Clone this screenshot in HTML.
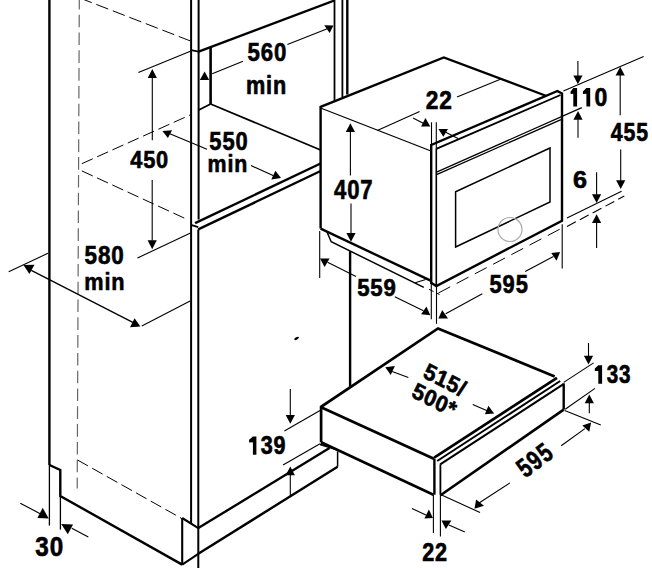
<!DOCTYPE html>
<html><head><meta charset="utf-8"><style>html,body{margin:0;padding:0;background:#fff;width:652px;height:568px;overflow:hidden}
svg{display:block}text{font-family:"Liberation Sans",sans-serif;font-weight:bold;fill:#000}</style></head><body>
<svg width="652" height="568" viewBox="0 0 652 568">
<line x1="49.4" y1="0" x2="49.4" y2="465" stroke="#000" stroke-width="2.4" stroke-linecap="butt"/>
<path d="M49.4,465 L60.3,470 L60.3,496 L182.2,564.6" fill="none" stroke="#000" stroke-width="2.4" stroke-linejoin="miter"/>
<line x1="49.4" y1="465" x2="49.4" y2="525.6" stroke="#000" stroke-width="1.3" stroke-linecap="butt"/>
<line x1="60.4" y1="496" x2="60.4" y2="529.6" stroke="#000" stroke-width="1.3" stroke-linecap="butt"/>
<line x1="79.3" y1="0" x2="77.2" y2="488.5" stroke="#666" stroke-width="1.2" stroke-dasharray="12.6 5.2" stroke-dashoffset="3.1"/>
<line x1="79.8" y1="-2" x2="190.5" y2="41" stroke="#000" stroke-width="1.0" stroke-dasharray="12.8 4.9" stroke-dashoffset="0"/>
<line x1="81.8" y1="163.7" x2="190.5" y2="114.8" stroke="#000" stroke-width="1.0" stroke-dasharray="12 4.8" stroke-dashoffset="0"/>
<line x1="81.8" y1="170.9" x2="188" y2="219.8" stroke="#000" stroke-width="1.0" stroke-dasharray="12 4.8" stroke-dashoffset="0"/>
<line x1="77.5" y1="460" x2="181.75" y2="518.5" stroke="#000" stroke-width="1.0" stroke-dasharray="12 4.8" stroke-dashoffset="0"/>
<line x1="191.1" y1="0" x2="191.1" y2="523.3" stroke="#000" stroke-width="2.0" stroke-linecap="butt"/>
<line x1="198.6" y1="0" x2="198.6" y2="219.5" stroke="#000" stroke-width="2.0" stroke-linecap="butt"/>
<line x1="191.1" y1="50.2" x2="198.6" y2="51.6" stroke="#000" stroke-width="1.8" stroke-linecap="butt"/>
<line x1="198.6" y1="51.6" x2="334.5" y2="0.5" stroke="#000" stroke-width="2.4" stroke-linecap="butt"/>
<line x1="210.6" y1="47.5" x2="210.6" y2="104" stroke="#000" stroke-width="2.6" stroke-linecap="butt"/>
<line x1="198.8" y1="110" x2="210.6" y2="104" stroke="#000" stroke-width="1.8" stroke-linecap="butt"/>
<line x1="210.6" y1="104" x2="320.6" y2="150" stroke="#000" stroke-width="1.8" stroke-linecap="butt"/>
<line x1="191.7" y1="225.1" x2="198.2" y2="227.2" stroke="#000" stroke-width="1.8" stroke-linecap="butt"/>
<line x1="195.1" y1="223.2" x2="320.6" y2="163.5" stroke="#000" stroke-width="2.4" stroke-linecap="butt"/>
<line x1="198.2" y1="229.4" x2="320.6" y2="171" stroke="#000" stroke-width="2.4" stroke-linecap="butt"/>
<line x1="198.3" y1="229.4" x2="198.3" y2="568" stroke="#000" stroke-width="2.0" stroke-linecap="butt"/>
<line x1="334.5" y1="0" x2="334.5" y2="100.7" stroke="#000" stroke-width="1.8" stroke-linecap="butt"/>
<line x1="342.4" y1="0" x2="342.4" y2="97" stroke="#000" stroke-width="1.8" stroke-linecap="butt"/>
<line x1="347.3" y1="0" x2="347.3" y2="94.5" stroke="#000" stroke-width="2.4" stroke-linecap="butt"/>
<line x1="182.2" y1="518" x2="198.3" y2="528.1" stroke="#000" stroke-width="2.1" stroke-linecap="butt"/>
<line x1="182.2" y1="518" x2="182.2" y2="564.6" stroke="#000" stroke-width="2.1" stroke-linecap="butt"/>
<line x1="182.2" y1="564.6" x2="198.3" y2="553.8" stroke="#000" stroke-width="2.1" stroke-linecap="butt"/>
<line x1="198.3" y1="528.1" x2="329.5" y2="448" stroke="#000" stroke-width="2.4" stroke-linecap="butt"/>
<line x1="198.3" y1="553.8" x2="337.6" y2="466.7" stroke="#000" stroke-width="2.4" stroke-linecap="butt"/>
<line x1="337.6" y1="451.4" x2="337.6" y2="466.7" stroke="#000" stroke-width="1.5" stroke-linecap="butt"/>
<line x1="350.1" y1="251.3" x2="350.1" y2="386.5" stroke="#000" stroke-width="2.4" stroke-linecap="butt"/>
<ellipse cx="296.6" cy="338.4" rx="2.6" ry="1.2" transform="rotate(-30 296.6 338.4)" fill="#000"/>
<path d="M320.6,228.6 L320.6,106.9 L443.8,57.5 L546.5,96" fill="none" stroke="#000" stroke-width="2.4" stroke-linejoin="miter"/>
<line x1="320.6" y1="108" x2="431" y2="151" stroke="#000" stroke-width="1.3" stroke-linecap="butt"/>
<path d="M320.6,228.6 L430.7,280.7" fill="none" stroke="#000" stroke-width="2.4" stroke-linejoin="miter"/>
<path d="M327,232 L331.2,241.7 L423.8,287.4" fill="none" stroke="#000" stroke-width="1.5" stroke-linejoin="miter"/>
<line x1="429" y1="289.3" x2="439.6" y2="294.6" stroke="#000" stroke-width="1.0" stroke-dasharray="5 3" stroke-dashoffset="0"/>
<line x1="415.2" y1="282.7" x2="425.7" y2="279.4" stroke="#000" stroke-width="1.1" stroke-linecap="butt"/>
<path d="M431.2,284 L431.2,145 L557.4,91 L562,93.5 L562,220.7 L436.3,286 L431.2,282.7" fill="none" stroke="#000" stroke-width="2.4" stroke-linejoin="miter"/>
<line x1="436.3" y1="148.7" x2="436.3" y2="286" stroke="#000" stroke-width="1.6" stroke-linecap="butt"/>
<line x1="436.3" y1="148.9" x2="560.5" y2="95" stroke="#000" stroke-width="1.8" stroke-linecap="butt"/>
<line x1="436" y1="172.3" x2="581.8" y2="107.6" stroke="#000" stroke-width="1.3" stroke-linecap="butt"/>
<line x1="436" y1="174.9" x2="561" y2="119.6" stroke="#000" stroke-width="1.3" stroke-linecap="butt"/>
<path d="M455.6,191.7 L550,148 L550,202 L455.6,247 Z" fill="none" stroke="#000" stroke-width="1.5" stroke-linejoin="miter"/>
<circle cx="510" cy="229.5" r="12" fill="none" stroke="#aaa" stroke-width="1.2"/>
<path d="M321.1,442.2 L321.1,406.8 L438,328.5 L554.7,376.4" fill="none" stroke="#000" stroke-width="2.6999999999999997" stroke-linejoin="miter"/>
<line x1="321.1" y1="407.3" x2="434.4" y2="459" stroke="#000" stroke-width="2.8" stroke-linecap="butt"/>
<line x1="321.1" y1="442.2" x2="433.4" y2="494.7" stroke="#000" stroke-width="2.6" stroke-linecap="butt"/>
<line x1="434.4" y1="459" x2="434.4" y2="494.7" stroke="#000" stroke-width="2.4" stroke-linecap="butt"/>
<line x1="440.4" y1="464.4" x2="440.4" y2="494.7" stroke="#000" stroke-width="1.8" stroke-linecap="butt"/>
<line x1="434.2" y1="457.6" x2="557" y2="377.8" stroke="#000" stroke-width="2.6999999999999997" stroke-linecap="butt"/>
<line x1="437.2" y1="461" x2="560.2" y2="381" stroke="#000" stroke-width="2.0" stroke-linecap="butt"/>
<line x1="440.2" y1="464.4" x2="563.5" y2="384.2" stroke="#000" stroke-width="2.0" stroke-linecap="butt"/>
<line x1="563.7" y1="383.3" x2="563.7" y2="409.6" stroke="#000" stroke-width="2.4" stroke-linecap="butt"/>
<line x1="440.5" y1="495.3" x2="563.7" y2="409.6" stroke="#000" stroke-width="2.6" stroke-linecap="butt"/>
<line x1="320" y1="444.4" x2="336.2" y2="449.5" stroke="#000" stroke-width="1.8" stroke-linecap="butt"/>
<path d="M204.6,71.5 L199.8,80 L209.2,80 Z" fill="#000"/>
<line x1="212.2" y1="73.8" x2="243" y2="61.3" stroke="#000" stroke-width="1.1" stroke-linecap="butt"/>
<line x1="287.4" y1="44.5" x2="327.9" y2="28.4" stroke="#000" stroke-width="1.1" stroke-linecap="butt"/>
<path d="M324.2,25.2 L333.4,25.5 L329.7,33 Z" fill="#000"/>
<text transform="matrix(0.2226,0,0,0.2592,247.43,60.54)" font-size="100" letter-spacing="4" stroke="#000" stroke-width="2.49">560</text>
<text transform="matrix(0.2168,0,0,0.2507,245.88,94.20)" font-size="100" letter-spacing="4" stroke="#000" stroke-width="2.57">min</text>
<line x1="138.4" y1="72.6" x2="191" y2="51.1" stroke="#000" stroke-width="1.1" stroke-linecap="butt"/>
<line x1="152.3" y1="140.3" x2="152.3" y2="77.39999999999999" stroke="#000" stroke-width="1.1" stroke-linecap="butt"/>
<path d="M152.3,69.1 L147.70000000000002,77.89999999999999 L156.9,77.89999999999999 Z" fill="#000"/>
<text transform="matrix(0.2178,0,0,0.2479,130.16,167.75)" font-size="100" letter-spacing="4" stroke="#000" stroke-width="2.58">450</text>
<line x1="152.2" y1="180" x2="152.2" y2="240.7" stroke="#000" stroke-width="1.1" stroke-linecap="butt"/>
<path d="M152.2,249.2 L147.6,240.2 L156.79999999999998,240.2 Z" fill="#000"/>
<line x1="137.5" y1="258" x2="190.5" y2="233" stroke="#000" stroke-width="1.1" stroke-linecap="butt"/>
<path d="M162.4,130.9 L172.1,130.3 L167.9,137.9 Z" fill="#000"/>
<line x1="169.8" y1="133.8" x2="207" y2="149.3" stroke="#000" stroke-width="1.1" stroke-linecap="butt"/>
<line x1="251" y1="165.6" x2="273.6" y2="175.7" stroke="#000" stroke-width="1.1" stroke-linecap="butt"/>
<path d="M271.3,179.4 L281,178 L275.4,170.8 Z" fill="#000"/>
<text transform="matrix(0.2190,0,0,0.2577,209.34,149.54)" font-size="100" letter-spacing="4" stroke="#000" stroke-width="2.52">550</text>
<text transform="matrix(0.2139,0,0,0.2452,207.60,171.80)" font-size="100" letter-spacing="4" stroke="#000" stroke-width="2.61">min</text>
<line x1="8.7" y1="271.7" x2="47.9" y2="253.3" stroke="#000" stroke-width="1.1" stroke-linecap="butt"/>
<path d="M23.5,265.1 L34.5,264.8 L29.4,274 Z" fill="#000"/>
<line x1="31.3" y1="270.3" x2="132.8" y2="322.4" stroke="#000" stroke-width="1.3" stroke-linecap="butt"/>
<path d="M130,327.3 L140.4,326.6 L134.6,318.3 Z" fill="#000"/>
<line x1="141.8" y1="325.9" x2="190.1" y2="301" stroke="#000" stroke-width="1.1" stroke-linecap="butt"/>
<text transform="matrix(0.2244,0,0,0.2577,84.53,264.24)" font-size="100" letter-spacing="4" stroke="#000" stroke-width="2.49">580</text>
<text transform="matrix(0.2168,0,0,0.2452,84.28,289.60)" font-size="100" letter-spacing="4" stroke="#000" stroke-width="2.60">min</text>
<line x1="377.3" y1="130.5" x2="419.6" y2="111.5" stroke="#000" stroke-width="1.1" stroke-linecap="butt"/>
<line x1="457" y1="97" x2="501" y2="79" stroke="#000" stroke-width="1.1" stroke-linecap="butt"/>
<line x1="413" y1="118" x2="424.2" y2="123.8" stroke="#000" stroke-width="1.1" stroke-linecap="butt"/>
<path d="M421.1,126.5 L430.3,126.5 L425.4,118.1 Z" fill="#000"/>
<line x1="431.5" y1="122.3" x2="431.5" y2="146" stroke="#000" stroke-width="1.1" stroke-linecap="butt"/>
<line x1="436.3" y1="122.3" x2="436.3" y2="149" stroke="#000" stroke-width="1.1" stroke-linecap="butt"/>
<path d="M438.4,129 L448,129 L443.4,136.8 Z" fill="#000"/>
<line x1="445.7" y1="132.2" x2="458" y2="138.4" stroke="#000" stroke-width="1.1" stroke-linecap="butt"/>
<text transform="matrix(0.2269,0,0,0.2629,425.72,108.70)" font-size="100" letter-spacing="4" stroke="#000" stroke-width="2.45">22</text>
<line x1="577.9" y1="60.9" x2="577.9" y2="76.0" stroke="#000" stroke-width="1.1" stroke-linecap="butt"/>
<path d="M577.9,84.3 L573.3,75.5 L582.5,75.5 Z" fill="#000"/>
<line x1="563.4" y1="91" x2="643.6" y2="56.4" stroke="#000" stroke-width="1.1" stroke-linecap="butt"/>
<line x1="578" y1="137.8" x2="578" y2="119.3" stroke="#000" stroke-width="1.1" stroke-linecap="butt"/>
<path d="M578,111 L573.4,119.8 L582.6,119.8 Z" fill="#000"/>
<path d="M570.6,91.39999999999999 L573.3,88.1 L577.1,88.1 L577.1,106.4 L573.3,106.4 L573.3,93.8 L570.6,94.0 Z" fill="#000"/>
<path d="M582.9,91.39999999999999 L586.4,88.1 L590.2,88.1 L590.2,106.4 L586.4,106.4 L586.4,93.8 L582.9,94.0 Z" fill="#000"/>
<text transform="matrix(0.2298,0,0,0.2493,594.38,105.85)" font-size="100" letter-spacing="4" stroke="#000" stroke-width="2.50">0</text>
<line x1="620.2" y1="115.2" x2="620.2" y2="75.0" stroke="#000" stroke-width="1.1" stroke-linecap="butt"/>
<path d="M620.2,66.7 L615.6,75.5 L624.8000000000001,75.5 Z" fill="#000"/>
<text transform="matrix(0.2129,0,0,0.2543,610.87,141.45)" font-size="100" letter-spacing="4" stroke="#000" stroke-width="2.57">455</text>
<line x1="620.7" y1="149.5" x2="620.7" y2="180.7" stroke="#000" stroke-width="1.1" stroke-linecap="butt"/>
<path d="M620.7,189 L616.1,180.2 L625.3000000000001,180.2 Z" fill="#000"/>
<line x1="350.4" y1="175.5" x2="350.4" y2="131.6" stroke="#000" stroke-width="1.1" stroke-linecap="butt"/>
<path d="M350.4,123.3 L345.79999999999995,132.1 L355.0,132.1 Z" fill="#000"/>
<text transform="matrix(0.2208,0,0,0.2676,334.06,198.73)" font-size="100" letter-spacing="4" stroke="#000" stroke-width="2.46">407</text>
<line x1="351" y1="203.6" x2="351" y2="233.39999999999998" stroke="#000" stroke-width="1.1" stroke-linecap="butt"/>
<path d="M351,241.7 L346.4,232.89999999999998 L355.6,232.89999999999998 Z" fill="#000"/>
<text transform="matrix(0.2521,0,0,0.2310,572.99,188.47)" font-size="100" letter-spacing="4" stroke="#000" stroke-width="2.48">6</text>
<line x1="596.6" y1="172.3" x2="596.6" y2="194.79999999999998" stroke="#000" stroke-width="1.1" stroke-linecap="butt"/>
<path d="M596.6,203.1 L592.0,194.29999999999998 L601.2,194.29999999999998 Z" fill="#000"/>
<line x1="596.6" y1="248" x2="596.6" y2="222.5" stroke="#000" stroke-width="1.1" stroke-linecap="butt"/>
<path d="M596.6,214.2 L592.0,223.0 L601.2,223.0 Z" fill="#000"/>
<line x1="567" y1="218.1" x2="621.6" y2="191.3" stroke="#000" stroke-width="1.1" stroke-linecap="butt"/>
<line x1="567" y1="226.5" x2="624.3" y2="196.1" stroke="#000" stroke-width="1.1" stroke-dasharray="10 4.5" stroke-dashoffset="0"/>
<line x1="319.7" y1="231.1" x2="319.7" y2="278" stroke="#000" stroke-width="1.1" stroke-linecap="butt"/>
<path d="M320,258.4 L329.6,258.4 L324.6,266.9 Z" fill="#000"/>
<line x1="327.6" y1="262.3" x2="356" y2="276.4" stroke="#000" stroke-width="1.1" stroke-linecap="butt"/>
<text transform="matrix(0.2220,0,0,0.2352,357.13,295.66)" font-size="100" letter-spacing="4" stroke="#000" stroke-width="2.62">559</text>
<line x1="394.8" y1="296.8" x2="423.4" y2="310.7" stroke="#000" stroke-width="1.1" stroke-linecap="butt"/>
<path d="M421.1,314.2 L430.3,315.3 L426.5,306.5 Z" fill="#000"/>
<line x1="431.3" y1="280" x2="431.3" y2="319.2" stroke="#000" stroke-width="1.1" stroke-linecap="butt"/>
<line x1="436.5" y1="285" x2="436.5" y2="323.8" stroke="#000" stroke-width="1.1" stroke-linecap="butt"/>
<line x1="437.5" y1="293.5" x2="563" y2="227.5" stroke="#000" stroke-width="1.0" stroke-dasharray="13.4 7.2" stroke-dashoffset="-1"/>
<path d="M438.4,318.4 L448,318.4 L442.2,310 Z" fill="#000"/>
<line x1="445.7" y1="313.8" x2="482.3" y2="293.7" stroke="#000" stroke-width="1.1" stroke-linecap="butt"/>
<text transform="matrix(0.2189,0,0,0.2549,489.54,293.15)" font-size="100" letter-spacing="4" stroke="#000" stroke-width="2.53">595</text>
<line x1="525.2" y1="271.4" x2="553.4" y2="256.5" stroke="#000" stroke-width="1.1" stroke-linecap="butt"/>
<path d="M551.3,253 L560.1,252.1 L556.5,260.8 Z" fill="#000"/>
<line x1="562.2" y1="224.3" x2="562.2" y2="268.5" stroke="#000" stroke-width="1.1" stroke-linecap="butt"/>
<path d="M385.3,367.3 L394.9,366.1 L390.7,374.9 Z" fill="#000"/>
<line x1="392.2" y1="371.5" x2="408.3" y2="377.6" stroke="#000" stroke-width="1.1" stroke-linecap="butt"/>
<line x1="472.7" y1="404.6" x2="487.2" y2="410.7" stroke="#000" stroke-width="1.1" stroke-linecap="butt"/>
<path d="M484.9,414.2 L494.1,413.6 L488.4,405.7 Z" fill="#000"/>
<text transform="matrix(0.1945,0.0991,-0.0879,0.2071,422.00,377.00)" font-size="100" letter-spacing="3" stroke="#000" stroke-width="2.67">515/</text>
<text transform="matrix(0.1945,0.0991,-0.0879,0.2071,410.50,396.50)" font-size="100" letter-spacing="3" stroke="#000" stroke-width="2.67">500*</text>
<line x1="588.5" y1="343" x2="588.5" y2="356.2" stroke="#000" stroke-width="1.1" stroke-linecap="butt"/>
<path d="M588.5,364.5 L583.9,355.7 L593.1,355.7 Z" fill="#000"/>
<line x1="563.7" y1="382.4" x2="593.6" y2="362.9" stroke="#000" stroke-width="1.1" stroke-linecap="butt"/>
<path d="M594.8,368.5 L598.3,365.2 L602.1,365.2 L602.1,383.8 L598.3,383.8 L598.3,370.9 L594.8,371.09999999999997 Z" fill="#000"/>
<text transform="matrix(0.2064,0,0,0.2535,606.79,383.25)" font-size="100" letter-spacing="4" stroke="#000" stroke-width="2.61">33</text>
<line x1="565.2" y1="409.3" x2="595" y2="388.4" stroke="#000" stroke-width="1.1" stroke-linecap="butt"/>
<line x1="589.3" y1="413.2" x2="589.3" y2="402.7" stroke="#000" stroke-width="1.1" stroke-linecap="butt"/>
<path d="M589.3,394.4 L584.6999999999999,403.2 L593.9,403.2 Z" fill="#000"/>
<line x1="564.7" y1="410.6" x2="600.8" y2="425.1" stroke="#000" stroke-width="1.1" stroke-linecap="butt"/>
<line x1="561.2" y1="445.8" x2="584.9" y2="428.6" stroke="#000" stroke-width="1.1" stroke-linecap="butt"/>
<path d="M582.3,425.5 L591.1,422.4 L589.3,431.7 Z" fill="#000"/>
<text transform="matrix(0.1639,-0.1235,0.1662,0.2128,525.50,478.50)" font-size="100" letter-spacing="6" stroke="#000" stroke-width="2.22">595</text>
<line x1="477.5" y1="504" x2="509.9" y2="482.9" stroke="#000" stroke-width="1.1" stroke-linecap="butt"/>
<path d="M474.5,508.7 L476.1,499.6 L484,505.8 Z" fill="#000"/>
<line x1="441.1" y1="494.7" x2="480" y2="512.5" stroke="#000" stroke-width="1.1" stroke-linecap="butt"/>
<line x1="290.3" y1="389" x2="290.3" y2="415.4" stroke="#000" stroke-width="1.1" stroke-linecap="butt"/>
<path d="M290.3,423.7 L285.7,414.9 L294.90000000000003,414.9 Z" fill="#000"/>
<line x1="284.4" y1="431" x2="320" y2="410.4" stroke="#000" stroke-width="1.1" stroke-linecap="butt"/>
<path d="M249.1,439.8 L252.9,436.5 L256.4,436.5 L256.4,454.8 L252.9,454.8 L252.9,442.2 L249.1,442.4 Z" fill="#000"/>
<text transform="matrix(0.2156,0,0,0.2493,260.77,454.25)" font-size="100" letter-spacing="4" stroke="#000" stroke-width="2.58">39</text>
<line x1="283" y1="465" x2="320" y2="443.8" stroke="#000" stroke-width="1.1" stroke-linecap="butt"/>
<line x1="290.3" y1="496.1" x2="290.3" y2="474.8" stroke="#000" stroke-width="1.1" stroke-linecap="butt"/>
<path d="M290.3,466.5 L285.7,475.3 L294.90000000000003,475.3 Z" fill="#000"/>
<line x1="433.4" y1="494.7" x2="433.4" y2="532.9" stroke="#000" stroke-width="1.1" stroke-linecap="butt"/>
<line x1="440.4" y1="494.7" x2="440.4" y2="536.4" stroke="#000" stroke-width="1.1" stroke-linecap="butt"/>
<line x1="412" y1="508.5" x2="425.9" y2="515" stroke="#000" stroke-width="1.1" stroke-linecap="butt"/>
<path d="M424.4,518.4 L432.9,518 L428.9,509.5 Z" fill="#000"/>
<path d="M441.4,520.4 L451.4,520.4 L445.9,528.9 Z" fill="#000"/>
<line x1="448.9" y1="524.9" x2="464.8" y2="531.9" stroke="#000" stroke-width="1.1" stroke-linecap="butt"/>
<text transform="matrix(0.2167,0,0,0.2614,422.15,560.60)" font-size="100" letter-spacing="4" stroke="#000" stroke-width="2.51">22</text>
<line x1="20.3" y1="503.2" x2="43" y2="515.2" stroke="#000" stroke-width="1.1" stroke-linecap="butt"/>
<path d="M37.4,518 L48.7,518.4 L42.7,507.8 Z" fill="#000"/>
<path d="M61.2,524.1 L73.1,524.6 L67.8,534.2 Z" fill="#000"/>
<line x1="71.8" y1="528.3" x2="88.3" y2="536.9" stroke="#000" stroke-width="1.1" stroke-linecap="butt"/>
<text transform="matrix(0.2422,0,0,0.2803,35.32,556.12)" font-size="100" letter-spacing="4" stroke="#000" stroke-width="2.30">30</text>
</svg></body></html>
